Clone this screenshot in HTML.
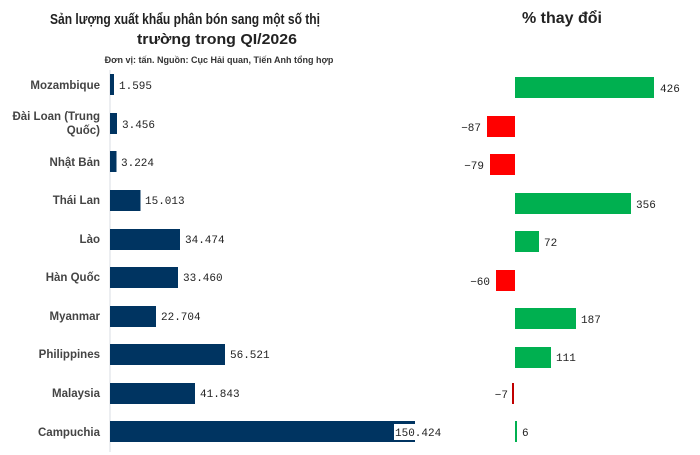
<!DOCTYPE html>
<html><head><meta charset="utf-8"><style>
body{margin:0;background:#fff;width:700px;height:455px;overflow:hidden}
svg{display:block;font-family:"Liberation Sans","DejaVu Sans",sans-serif}
.lab{font-size:11.5px;font-weight:bold;fill:#444;text-anchor:end}
.val{font-family:"Liberation Mono","DejaVu Sans Mono",monospace;font-size:11px;fill:#222}
.pv{font-family:"Liberation Mono","DejaVu Sans Mono",monospace;font-size:11px;fill:#222}
</style></head><body>
<svg width="700" height="455" viewBox="0 0 700 455">
<text x="50" y="24" font-size="15" font-weight="bold" fill="#222" textLength="270" lengthAdjust="spacingAndGlyphs">Sản lượng xuất khẩu phân bón sang một số thị</text>
<text x="137" y="44" font-size="15" font-weight="bold" fill="#222" textLength="160" lengthAdjust="spacingAndGlyphs">trường trong QI/2026</text>
<text x="219" y="63" text-anchor="middle" font-size="9" font-weight="bold" fill="#333">Đơn vị: tấn. Nguồn: Cục Hải quan, Tiến Anh tổng hợp</text>
<text x="562" y="23" text-anchor="middle" font-size="16" font-weight="bold" fill="#222">% thay đổi</text>
<line x1="110" y1="70" x2="110" y2="452" stroke="#d8dde3" stroke-width="1"/>
<g fill="#003461">
<rect x="110" y="74" width="4" height="21"/>
<rect x="110" y="113" width="7" height="21"/>
<rect x="110" y="151" width="6.5" height="21"/>
<rect x="110" y="190" width="30.5" height="21"/>
<rect x="110" y="229" width="70" height="21"/>
<rect x="110" y="267" width="68" height="21"/>
<rect x="110" y="306" width="46" height="21"/>
<rect x="110" y="344" width="115" height="21"/>
<rect x="110" y="383" width="85" height="21"/>
<rect x="110" y="421" width="305" height="21"/>
</g>
<g class="lab">
<text x="100" y="89">Mozambique</text>
<text x="100" y="120">Đài Loan (Trung</text>
<text x="100" y="134">Quốc)</text>
<text x="100" y="166">Nhật Bản</text>
<text x="100" y="204">Thái Lan</text>
<text x="100" y="243">Lào</text>
<text x="100" y="281">Hàn Quốc</text>
<text x="100" y="320">Myanmar</text>
<text x="100" y="358">Philippines</text>
<text x="100" y="397">Malaysia</text>
<text x="100" y="436">Campuchia</text>
</g>
<g class="val">
<text x="119" y="89">1.595</text>
<text x="122" y="128">3.456</text>
<text x="121" y="166">3.224</text>
<text x="145" y="204">15.013</text>
<text x="185" y="243">34.474</text>
<text x="183" y="281">33.460</text>
<text x="161" y="320">22.704</text>
<text x="230" y="358">56.521</text>
<text x="200" y="397">41.843</text>
<rect x="394" y="424" width="22" height="16" fill="#fff"/>
<text x="395" y="436">150.424</text>
</g>
<rect x="515" y="77" width="139" height="21" fill="#00b050"/>
<rect x="487" y="116" width="28" height="21" fill="#ff0000"/>
<rect x="490" y="154" width="25" height="21" fill="#ff0000"/>
<rect x="515" y="193" width="116" height="21" fill="#00b050"/>
<rect x="515" y="231" width="24" height="21" fill="#00b050"/>
<rect x="496" y="270" width="19" height="21" fill="#ff0000"/>
<rect x="515" y="308" width="61" height="21" fill="#00b050"/>
<rect x="515" y="347" width="36" height="21" fill="#00b050"/>
<rect x="512" y="383" width="2" height="21" fill="#c00000"/>
<rect x="515" y="421" width="2" height="21" fill="#00b050"/>
<g class="pv">
<text x="660" y="92">426</text>
<text x="481" y="131" text-anchor="end">−87</text>
<text x="484" y="169" text-anchor="end">−79</text>
<text x="636" y="208">356</text>
<text x="544" y="246">72</text>
<text x="490" y="285" text-anchor="end">−60</text>
<text x="581" y="323">187</text>
<text x="556" y="361">111</text>
<text x="508" y="398" text-anchor="end">−7</text>
<text x="522" y="436">6</text>
</g>
</svg>
</body></html>
